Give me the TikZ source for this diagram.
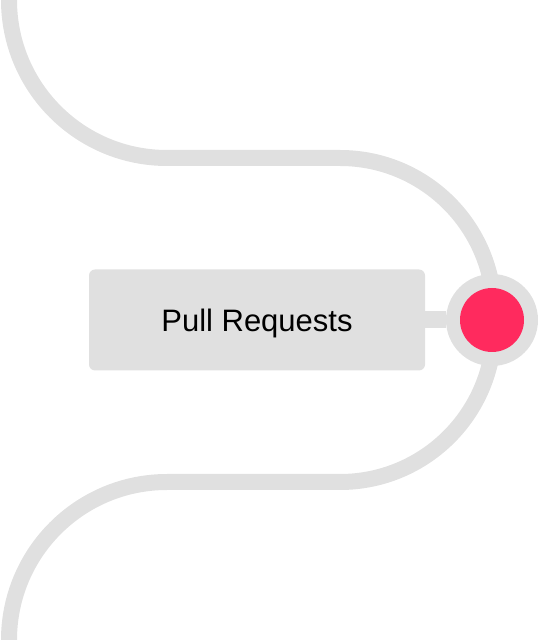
\documentclass[tikz,border=0pt]{standalone}
\usepackage{fontspec}
\setmainfont{Liberation Sans}
\usepackage{tikz}
\usetikzlibrary{shapes,arrows,positioning}
\definecolor{track}{HTML}{E0E0E0}
\definecolor{stop}{HTML}{FF2A5E}
\tikzstyle{road} = [draw=track, line width=16pt]
\tikzstyle{label box} = [rectangle, rounded corners=6pt, fill=track, draw=none, minimum width=336pt, minimum height=101pt, inner sep=0pt, text depth=0pt, font=\fontsize{31}{36}\selectfont]
\tikzstyle{ring} = [circle, fill=track, draw=none, minimum size=92pt, inner sep=0pt]
\tikzstyle{dot} = [circle, fill=stop, draw=none, minimum size=64pt, inner sep=0pt]
\begin{document}
\begin{tikzpicture}[x=1pt,y=1pt]
\useasboundingbox (0,0) rectangle (539,640);
% the winding track, top to bottom
\draw[road] (9,650) -- (9,640) arc[start angle=180, end angle=270, radius=158]
	-- (340,482) arc[start angle=90, end angle=0, radius=154]
	-- (494,312) arc[start angle=0, end angle=-90, radius=154]
	-- (167,158) arc[start angle=90, end angle=180, radius=158] -- (9,-10);
\node (hub) [ring] at (492,320) {};
\node (Pull) [label box] at (257,320) {Pull Requests};
\draw[draw=track, line width=17pt] (Pull.east) -- (hub);
\node (hub-dot) [dot] at (hub) {};
\end{tikzpicture}
\end{document}
